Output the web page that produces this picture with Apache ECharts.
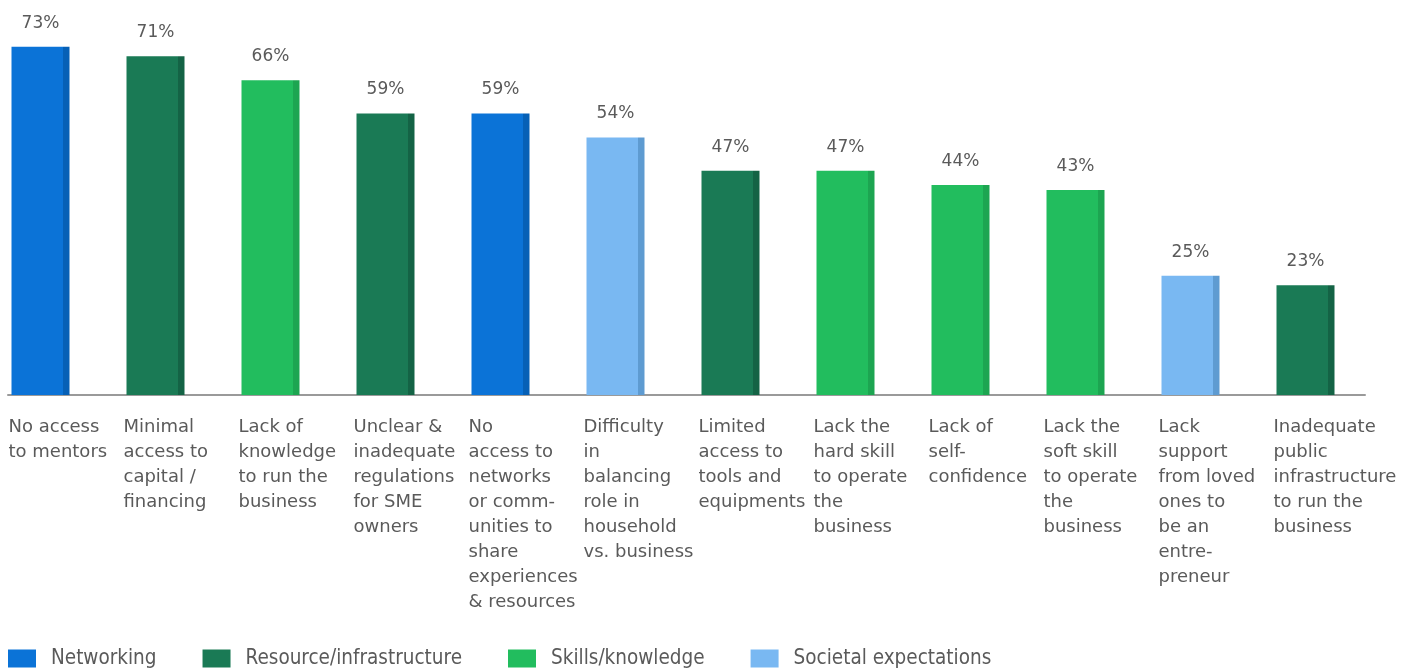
<!DOCTYPE html>
<html>
<head>
<meta charset="utf-8">
<script src="https://cdn.jsdelivr.net/npm/echarts@6/dist/echarts.min.js"></script>
<style>
  html, body { margin: 0; padding: 0; background: #fff; }
  #chart { width: 1410px; height: 668px; }
</style>
</head>
<body>
<div id="chart"></div>
<script>
// Barriers faced, share of respondents (%)
const categories = [
  'No access\nto mentors',
  'Minimal\naccess to\ncapital /\nfinancing',
  'Lack of\nknowledge\nto run the\nbusiness',
  'Unclear &\ninadequate\nregulations\nfor SME\nowners',
  'No\naccess to\nnetworks\nor comm-\nunities to\nshare\nexperiences\n& resources',
  'Difficulty\nin\nbalancing\nrole in\nhousehold\nvs. business',
  'Limited\naccess to\ntools and\nequipments',
  'Lack the\nhard skill\nto operate\nthe\nbusiness',
  'Lack of\nself-\nconfidence',
  'Lack the\nsoft skill\nto operate\nthe\nbusiness',
  'Lack\nsupport\nfrom loved\nones to\nbe an\nentre-\npreneur',
  'Inadequate\npublic\ninfrastructure\nto run the\nbusiness'
];
const values = [73, 71, 66, 59, 59, 54, 47, 47, 44, 43, 25, 23];
const groupOf = [
  'Networking', 'Resource/infrastructure', 'Skills/knowledge', 'Resource/infrastructure',
  'Networking', 'Societal expectations', 'Resource/infrastructure', 'Skills/knowledge',
  'Skills/knowledge', 'Skills/knowledge', 'Societal expectations', 'Resource/infrastructure'
];
const groups = ['Networking', 'Resource/infrastructure', 'Skills/knowledge', 'Societal expectations'];
const groupColors = ['#0B73D7', '#1A7A55', '#22BD5E', '#79B8F2'];
const groupShades = ['#0660B6', '#146345', '#1DA551', '#5E9BD1'];

const TEXT = '#5a5a5a';
const BODY_FONT = '"DejaVu Sans", "Noto Sans", sans-serif';

// bar face with a darker strip along its right side
function barFill(i) {
  return new echarts.graphic.LinearGradient(0, 0, 1, 0, [
    { offset: 0, color: groupColors[i] },
    { offset: 0.895, color: groupColors[i] },
    { offset: 0.895, color: groupShades[i] },
    { offset: 1, color: groupShades[i] }
  ]);
}

const series = groups.map((g, gi) => ({
  name: g,
  type: 'bar',
  stack: 'all',
  barWidth: 58,
  xAxisIndex: 0,
  yAxisIndex: 0,
  data: values.map((v, k) => (groupOf[k] === g ? v : '-')),
  itemStyle: { color: barFill(gi) },
  label: {
    show: true,
    position: 'top',
    distance: 15,
    formatter: '{c}%',
    color: TEXT,
    fontFamily: BODY_FONT,
    fontSize: 17
  },
  emphasis: { disabled: true }
}));

const chart = echarts.init(document.getElementById('chart'), null, { renderer: 'canvas' });
chart.setOption({
  animation: false,
  backgroundColor: '#ffffff',
  legend: {
    left: 8,
    top: 648,
    padding: 0,
    itemWidth: 28,
    itemHeight: 18,
    itemGap: 46,
    icon: 'rect',
    data: groups.map((g, gi) => ({ name: g, itemStyle: { color: groupColors[gi] } })),
    textStyle: {
      color: TEXT,
      fontSize: 20.5,
      fontFamily: '"DejaVu Sans Condensed", "Liberation Sans Narrow", sans-serif',
      padding: [0, 0, 0, 10]
    }
  },
  grid: [
    { left: -17, right: 47, top: 13.4, bottom: 273, outerBoundsMode: 'none' },
    { left: 8, right: 45, top: 13.4, bottom: 273, outerBoundsMode: 'none' }
  ],
  xAxis: [
    {
      type: 'category',
      gridIndex: 0,
      data: categories,
      axisLine: { show: false },
      axisTick: { show: false },
      axisLabel: {
        interval: 0,
        margin: 20,
        align: 'center',
        width: 64,
        formatter: v => v.split('\n').map(l => '{a|' + l + '}').join('\n'),
        rich: {
          a: {
            align: 'left',
            color: TEXT,
            fontFamily: BODY_FONT,
            fontSize: 18,
            lineHeight: 25
          }
        }
      }
    },
    {
      // baseline under the bars
      type: 'value',
      gridIndex: 1,
      min: 0,
      max: 1,
      axisLine: { show: true, onZero: false, lineStyle: { color: '#9a9a9a', width: 2 } },
      axisTick: { show: false },
      axisLabel: { show: false },
      splitLine: { show: false }
    }
  ],
  yAxis: [
    { type: 'value', gridIndex: 0, min: 0, max: 80, show: false, splitLine: { show: false } },
    { type: 'value', gridIndex: 1, min: 0, max: 1, show: false, splitLine: { show: false } }
  ],
  series: series
});
</script>
</body>
</html>
